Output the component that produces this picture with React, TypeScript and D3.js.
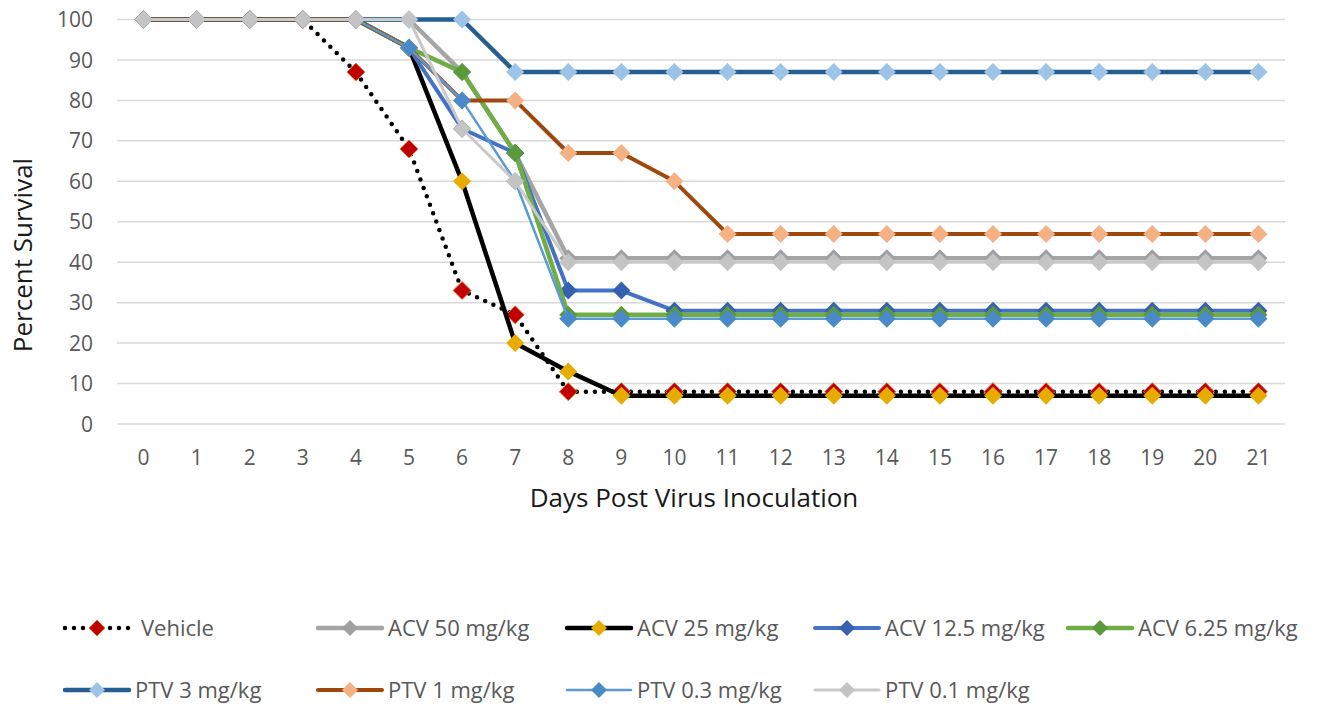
import React, { useEffect } from 'react';
import * as d3 from 'd3';

// days 0..21
const days = d3.range(0, 22);
const yTicks = [0, 10, 20, 30, 40, 50, 60, 70, 80, 90, 100];

const vehicle = [100, 100, 100, 100, 87, 68, 33, 27, 8, 8, 8, 8, 8, 8, 8, 8, 8, 8, 8, 8, 8, 8];
const acv50 = [100, 100, 100, 100, 100, 100, 87, 67, 41, 41, 41, 41, 41, 41, 41, 41, 41, 41, 41, 41, 41, 41];
const acv25 = [100, 100, 100, 100, 100, 93, 60, 20, 13, 7, 7, 7, 7, 7, 7, 7, 7, 7, 7, 7, 7, 7];
const acv12 = [100, 100, 100, 100, 100, 93, 73, 67, 33, 33, 28, 28, 28, 28, 28, 28, 28, 28, 28, 28, 28, 28];
const acv6 = [100, 100, 100, 100, 100, 93, 87, 67, 27, 27, 27, 27, 27, 27, 27, 27, 27, 27, 27, 27, 27, 27];
const ptv3 = [100, 100, 100, 100, 100, 100, 100, 87, 87, 87, 87, 87, 87, 87, 87, 87, 87, 87, 87, 87, 87, 87];
const ptv1 = [100, 100, 100, 100, 100, 93, 80, 80, 67, 67, 60, 47, 47, 47, 47, 47, 47, 47, 47, 47, 47, 47];
const ptv03 = [100, 100, 100, 100, 100, 93, 80, 60, 26, 26, 26, 26, 26, 26, 26, 26, 26, 26, 26, 26, 26, 26];
const ptv01 = [100, 100, 100, 100, 100, 100, 73, 60, 40, 40, 40, 40, 40, 40, 40, 40, 40, 40, 40, 40, 40, 40];

interface Series {
    name: string;
    values: number[];
    line: string;
    width: number;
    marker: string;
    markerStroke?: string;
    dotted?: boolean;
}

const series: Series[] = [
    { name: 'Vehicle', values: vehicle, line: '#000000', width: 4.5, marker: '#c00000', markerStroke: '#e8743b', dotted: true },
    { name: 'ACV 50 mg/kg', values: acv50, line: '#a5a5a5', width: 4.5, marker: '#a0a0a0' },
    { name: 'ACV 25 mg/kg', values: acv25, line: '#000000', width: 4.5, marker: '#e6ad00' },
    { name: 'ACV 12.5 mg/kg', values: acv12, line: '#4472c4', width: 4, marker: '#3561b0' },
    { name: 'ACV 6.25 mg/kg', values: acv6, line: '#70ad47', width: 4.5, marker: '#5b9a3a' },
    { name: 'PTV 3 mg/kg', values: ptv3, line: '#255e91', width: 4.5, marker: '#9dc3e6' },
    { name: 'PTV 1 mg/kg', values: ptv1, line: '#9e480e', width: 4, marker: '#f4b183' },
    { name: 'PTV 0.3 mg/kg', values: ptv03, line: '#5b9bd5', width: 2.5, marker: '#4a8ac8' },
    { name: 'PTV 0.1 mg/kg', values: ptv01, line: '#c9c9c9', width: 3, marker: '#c4c4c4' },
];

const W = 1319;
const H = 706;
const FONT = "'Open Sans', 'Noto Sans', sans-serif";
const TEXT = '#595959';

const x = d3.scaleBand<number>().domain(days).range([117, 1285]);
const cx = (d: number) => (x(d) as number) + x.bandwidth() / 2;
const y = d3.scaleLinear().domain([0, 100]).range([424, 19.5]);

const diamond = (px: number, py: number, r: number) =>
    `M${px},${py - r}L${px + r},${py}L${px},${py + r}L${px - r},${py}Z`;

// legend placement: two rows
const legendX = [65, 318, 567, 815, 1068];
const legendY = [628, 690];

export default function App() {
    useEffect(() => {
        document.body.style.margin = '0';
    }, []);

    const lineGen = d3.line<number>().x((_, i) => cx(days[i])).y(d => y(d));

    return (
        <svg width={W} height={H} style={{ display: 'block', background: '#fff' }} fontFamily={FONT}>
            {/* gridlines */}
            {yTicks.map(t => (
                <line key={t} x1={117} x2={1285} y1={y(t)} y2={y(t)} stroke="#d9d9d9" strokeWidth={1.5} />
            ))}
            {/* y tick labels */}
            {yTicks.map(t => (
                <text key={t} x={93} y={y(t)} dy="0.36em" textAnchor="end" fontSize={21} fill={TEXT}>{t}</text>
            ))}
            {/* x tick labels */}
            {days.map(d => (
                <text key={d} x={cx(d)} y={465} textAnchor="middle" fontSize={21} fill={TEXT}>{d}</text>
            ))}
            <text x={694} y={507} textAnchor="middle" fontSize={26} fill="#1a1a1a">Days Post Virus Inoculation</text>
            <text transform="translate(32,255) rotate(-90)" textAnchor="middle" fontSize={26} fill="#1a1a1a">Percent Survival</text>

            {/* series */}
            {series.map(s => (
                <g key={s.name}>
                    <path
                        d={lineGen(s.values) || ''}
                        fill="none"
                        stroke={s.line}
                        strokeWidth={s.width}
                        strokeLinejoin="round"
                        strokeLinecap={s.dotted ? 'round' : 'butt'}
                        strokeDasharray={s.dotted ? '0 9' : undefined}
                    />
                    {s.values.map((v, i) => (
                        <path key={i} d={diamond(cx(days[i]), y(v), 9)} fill={s.marker}
                            stroke={s.markerStroke || 'none'} strokeWidth={s.markerStroke ? 1 : 0} />
                    ))}
                </g>
            ))}

            {/* legend */}
            {series.map((s, i) => {
                const row = i < 5 ? 0 : 1;
                const col = i < 5 ? i : i - 5;
                const lx = legendX[col];
                const ly = legendY[row];
                const len = 64;
                return (
                    <g key={s.name}>
                        <line x1={lx} x2={lx + len} y1={ly} y2={ly} stroke={s.line} strokeWidth={s.width}
                            strokeLinecap="round" strokeDasharray={s.dotted ? '0 9' : undefined} />
                        <path d={diamond(lx + len / 2, ly, 8)} fill={s.marker}
                            stroke={s.markerStroke || 'none'} strokeWidth={s.markerStroke ? 1 : 0} />
                        <text x={lx + len + (s.dotted ? 12 : 6)} y={ly} dy="0.36em" fontSize={22} fill={TEXT}>{s.name}</text>
                    </g>
                );
            })}
        </svg>
    );
}
